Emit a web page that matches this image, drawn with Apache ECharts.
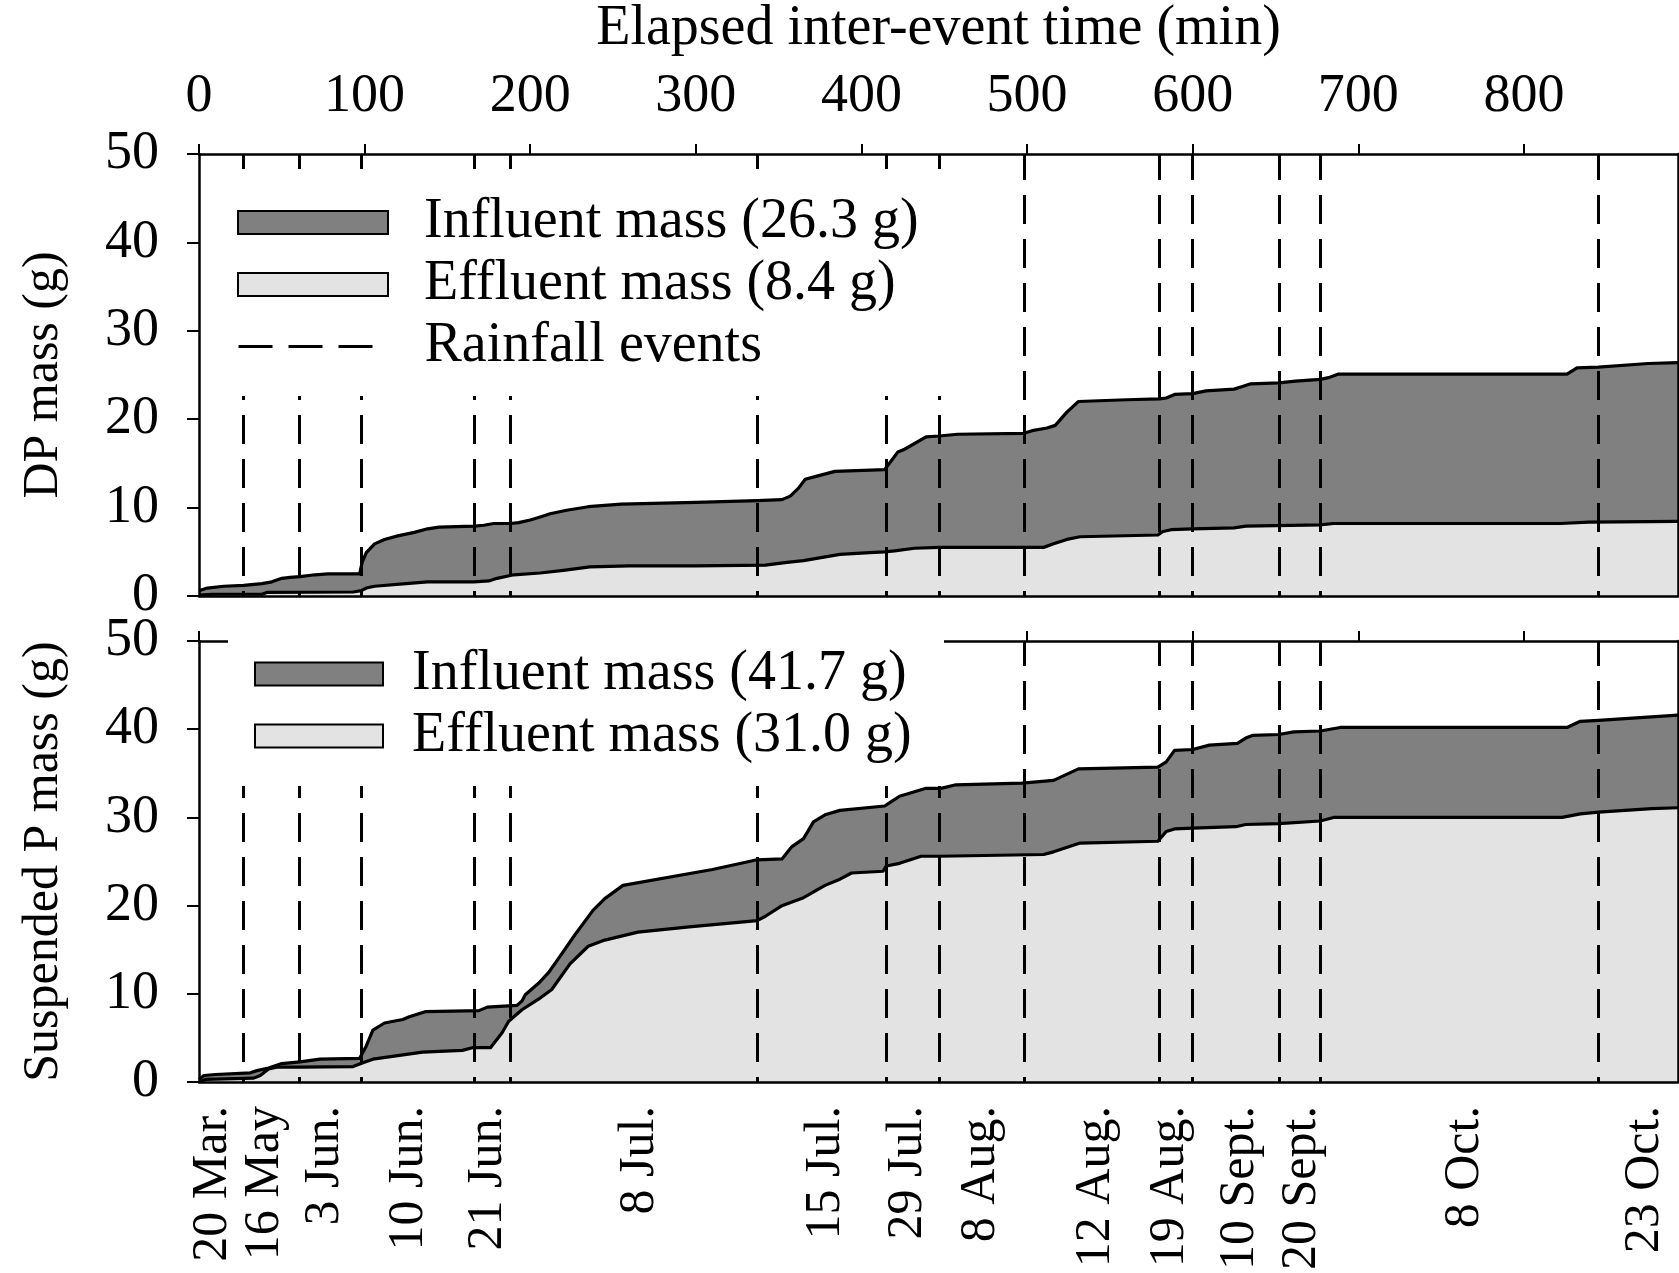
<!DOCTYPE html>
<html><head><meta charset="utf-8">
<script src="https://cdn.jsdelivr.net/npm/echarts@6/dist/echarts.min.js"></script>
<style>html,body{margin:0;padding:0;background:#fff}#c{width:1679px;height:1273px}</style>
</head><body><div id="c"></div>
<script>
// ---- data ----
const xMax = 893;
const topTickValues = [0, 100, 200, 300, 400, 500, 600, 700, 800];
const eventBounds = [26.5, 60.7, 98, 166, 188, 337, 415, 447, 498, 580, 600, 652, 677, 845];
const dateLabels = ['20 Mar.', '16 May', '3 Jun.', '10 Jun.', '21 Jun.', '8 Jul.', '15 Jul.', '29 Jul.', '8 Aug.', '12 Aug.', '19 Aug.', '10 Sept.', '20 Sept.', '8 Oct.', '23 Oct.'];
const dateLabelPos = [8.4, 39.7, 75.9, 127, 174.4, 266, 378.8, 428, 472.3, 541.7, 586, 628.7, 665.9, 764.5, 873.2];

const dpInfluent = [[0,0.6],[5,0.9],[15,1.1],[27,1.2],[38,1.4],[44,1.6],[50,2.0],[55,2.1],[61,2.2],[70,2.4],[78,2.5],[97,2.5],[98.5,3.8],[101,4.9],[106,5.9],[112,6.4],[120,6.8],[130,7.2],[138,7.6],[145,7.8],[166,7.9],[172,8.0],[178,8.2],[188,8.2],[193,8.3],[200,8.6],[207,9.0],[212,9.3],[222,9.7],[235,10.1],[255,10.4],[300,10.6],[337,10.8],[352,10.9],[357,11.3],[362,12.2],[366,13.2],[372,13.5],[384,14.1],[414,14.3],[418,15.3],[422,16.3],[426,16.6],[439,18.0],[447,18.1],[458,18.3],[498,18.4],[503,18.7],[512,19.0],[517,19.3],[524,20.8],[531,22.0],[560,22.2],[580,22.3],[584,22.4],[589,22.8],[600,22.9],[608,23.2],[625,23.4],[630,23.7],[635,24.0],[652,24.1],[662,24.3],[677,24.5],[682,24.7],[688,25.1],[826,25.1],[832,25.8],[845,25.9],[875,26.3],[893,26.4]];
const dpEffluent = [[0,0.1],[8,0.2],[38,0.2],[41,0.4],[93,0.45],[98,0.6],[101,0.9],[106,1.1],[125,1.4],[138,1.6],[166,1.6],[175,1.7],[180,2.0],[190,2.4],[206,2.6],[220,2.9],[236,3.3],[260,3.4],[300,3.4],[342,3.5],[355,3.8],[365,4.0],[387,4.7],[405,4.9],[414,5.0],[420,5.1],[432,5.4],[447,5.5],[510,5.5],[516,5.9],[524,6.4],[532,6.7],[579,6.9],[582,7.3],[587,7.5],[600,7.6],[625,7.7],[632,7.9],[677,8.05],[685,8.2],[822,8.2],[839,8.35],[893,8.45]];
const spInfluent = [[0,0.3],[3,0.75],[10,0.86],[31,1.05],[35,1.3],[42,1.6],[50,2.1],[61,2.3],[73,2.6],[97,2.7],[101,4.1],[105,5.9],[112,6.7],[123,7.1],[127,7.4],[137,8.0],[169,8.1],[174,8.5],[192,8.7],[195,9.2],[197,9.9],[205,11.2],[211,12.4],[217,14.0],[227,16.7],[238,19.5],[245,20.8],[256,22.3],[310,24.1],[337,25.2],[352,25.3],[358,26.7],[365,27.6],[371,29.5],[378,30.3],[387,30.8],[414,31.3],[418,31.8],[423,32.4],[439,33.3],[448,33.3],[457,33.7],[497,33.9],[516,34.2],[531,35.5],[579,35.7],[584,36.3],[589,37.6],[600,37.7],[610,38.2],[627,38.4],[632,39.0],[636,39.3],[652,39.4],[661,39.7],[677,39.8],[689,40.2],[826,40.2],[834,40.9],[845,41.0],[877,41.4],[893,41.6]];
const spEffluent = [[0,0],[4,0.3],[33,0.45],[37,0.75],[42,1.5],[47,1.7],[61,1.7],[93,1.76],[99,2.2],[105,2.6],[135,3.4],[159,3.6],[165,3.9],[176,3.9],[183,5.6],[187,6.9],[195,8.2],[205,9.4],[213,10.5],[224,13.4],[235,15.4],[245,16.1],[265,17.0],[296,17.6],[337,18.3],[342,18.8],[352,20.0],[365,20.9],[378,22.3],[387,23.0],[394,23.7],[413,23.9],[415,24.5],[423,24.8],[436,25.6],[447,25.6],[510,25.8],[516,26.1],[532,27.1],[579,27.3],[584,28.4],[589,28.7],[600,28.8],[626,28.95],[632,29.2],[652,29.3],[677,29.6],[685,30.0],[823,30.0],[834,30.4],[845,30.6],[877,31.0],[893,31.1]];

const names = {
  dpIn: 'Influent mass (26.3 g)', dpEf: 'Effluent mass (8.4 g)',
  spIn: 'Influent mass (41.7 g)', spEf: 'Effluent mass (31.0 g)',
  rain: 'Rainfall events'
};

// ---- styles ----
const FONT = 'Liberation Serif';
const DARK = '#808080', LIGHT = '#e3e3e3';
const axLine = { show: true, onZero: false, lineStyle: { color: '#000', width: 2.5 } };

function areaSeries(name, data, gi, fill, z) {
  return { type: 'line', name, data, xAxisIndex: gi * 2, yAxisIndex: gi * 2, symbol: 'none', showSymbol: false,
    z, silent: true, color: fill,
    lineStyle: { color: '#000', width: 3.2, join: 'round' },
    areaStyle: { color: fill, opacity: 1 } };
}
function rainSeries(gi) {
  return { type: 'line', name: names.rain, data: [], xAxisIndex: gi * 2, yAxisIndex: gi * 2, symbol: 'none', z: 5,
    color: '#000', lineStyle: { color: '#000', width: 3, type: [34, 16], dashOffset: 0 },
    markLine: { symbol: ['none', 'none'], silent: true, label: { show: false }, animation: false,
      lineStyle: { color: '#000', width: 3, type: [29, 15], dashOffset: 24 }, emphasis: { disabled: true },
      data: eventBounds.map(v => ({ xAxis: v })) } };
}
function xAxes(gi) {
  const base = { gridIndex: gi, type: 'value', min: 0, max: xMax, splitLine: { show: false }, z: 10, axisLine: axLine };
  const bottom = Object.assign({}, base, { position: 'bottom', axisTick: { show: false } });
  const top = Object.assign({}, base, { position: 'top',
    axisTick: { show: true, customValues: topTickValues, length: 10, lineStyle: { color: '#000', width: 2 } } });
  if (gi === 0) {
    bottom.axisLabel = { show: false };
    top.axisLabel = { show: true, customValues: topTickValues, fontFamily: FONT, fontSize: 54, color: '#000', margin: 30 };
    top.name = 'Elapsed inter-event time (min)';
    top.nameLocation = 'middle';
    top.nameGap = 97;
    top.nameTextStyle = { fontFamily: FONT, fontSize: 56, color: '#000' };
  } else {
    bottom.axisLabel = { show: true, customValues: dateLabelPos, rotate: 90, fontFamily: FONT, fontSize: 50, color: '#000', margin: 24,
      formatter: function (v) {
        let best = 0;
        for (let i = 1; i < dateLabelPos.length; i++) if (Math.abs(dateLabelPos[i] - v) < Math.abs(dateLabelPos[best] - v)) best = i;
        return dateLabels[best];
      } };
    top.axisLabel = { show: false };
  }
  return [bottom, top];
}
function yAxes(gi, name) {
  const base = { gridIndex: gi, type: 'value', min: 0, max: 50, interval: 10, splitLine: { show: false }, z: 10, axisLine: axLine };
  const left = Object.assign({}, base, { position: 'left', name, nameLocation: 'middle', nameGap: 130,
    nameTextStyle: { fontFamily: FONT, fontSize: 50, color: '#000' },
    axisTick: { show: true, length: 12, lineStyle: { color: '#000', width: 2 } },
    axisLabel: { fontFamily: FONT, fontSize: 54, color: '#000', margin: 40 } });
  const right = Object.assign({}, base, { position: 'right', axisTick: { show: false }, axisLabel: { show: false } });
  return [left, right];
}
// one legend component per entry, so each row sits exactly where the reference has it
function legendBox(item, left, centerY, iconW, textGap) {
  return { orient: 'vertical', left, top: centerY - 26.5, padding: 0, z: 20,
    itemWidth: iconW, itemHeight: 23, selectedMode: false,
    textStyle: { fontFamily: FONT, fontSize: 56, color: '#000', lineHeight: 23, padding: [0, 0, 0, textGap] },
    data: [item] };
}
function rectItem(name, fill) {
  return { name, icon: 'rect', itemStyle: { color: fill, borderColor: '#000', borderWidth: 2 } };
}
const rainItem = { name: names.rain, itemStyle: { opacity: 0 }, lineStyle: { color: '#000', width: 3, type: [34, 16], dashOffset: 0 } };

const option = {
  animation: false,
  backgroundColor: '#fff',
  grid: [
    { left: 199, right: 1, top: 151, height: 445 },
    { left: 199, right: 1, top: 641, height: 445 }
  ],
  xAxis: [...xAxes(0), ...xAxes(1)],
  yAxis: [...yAxes(0, 'DP mass (g)'), ...yAxes(1, 'Suspended P mass (g)')],
  // white panels behind the legends (the legend areas blank out rain lines and frame)
  graphic: { elements: [
    { type: 'rect', silent: true, z: 15, shape: { x: 225, y: 169, width: 738, height: 227 }, style: { fill: '#fff' } },
    { type: 'rect', silent: true, z: 15, shape: { x: 228, y: 628, width: 716, height: 158 }, style: { fill: '#fff' } }
  ] },
  legend: [
    legendBox(rectItem(names.dpIn, DARK), 237, 221, 150, 31),
    legendBox(rectItem(names.dpEf, LIGHT), 237, 283, 150, 31),
    legendBox(rainItem, 237, 345, 150, 31),
    legendBox(rectItem(names.spIn, DARK), 254, 672.5, 128, 24),
    legendBox(rectItem(names.spEf, LIGHT), 254, 734.6, 128, 24)
  ],
  series: [
    areaSeries(names.dpIn, dpInfluent, 0, DARK, 2),
    areaSeries(names.dpEf, dpEffluent, 0, LIGHT, 3),
    rainSeries(0),
    areaSeries(names.spIn, spInfluent, 1, DARK, 2),
    areaSeries(names.spEf, spEffluent, 1, LIGHT, 3),
    rainSeries(1)
  ]
};
const chart = echarts.init(document.getElementById('c'), null, { renderer: 'canvas' });
chart.setOption(option);
</script></body></html>
